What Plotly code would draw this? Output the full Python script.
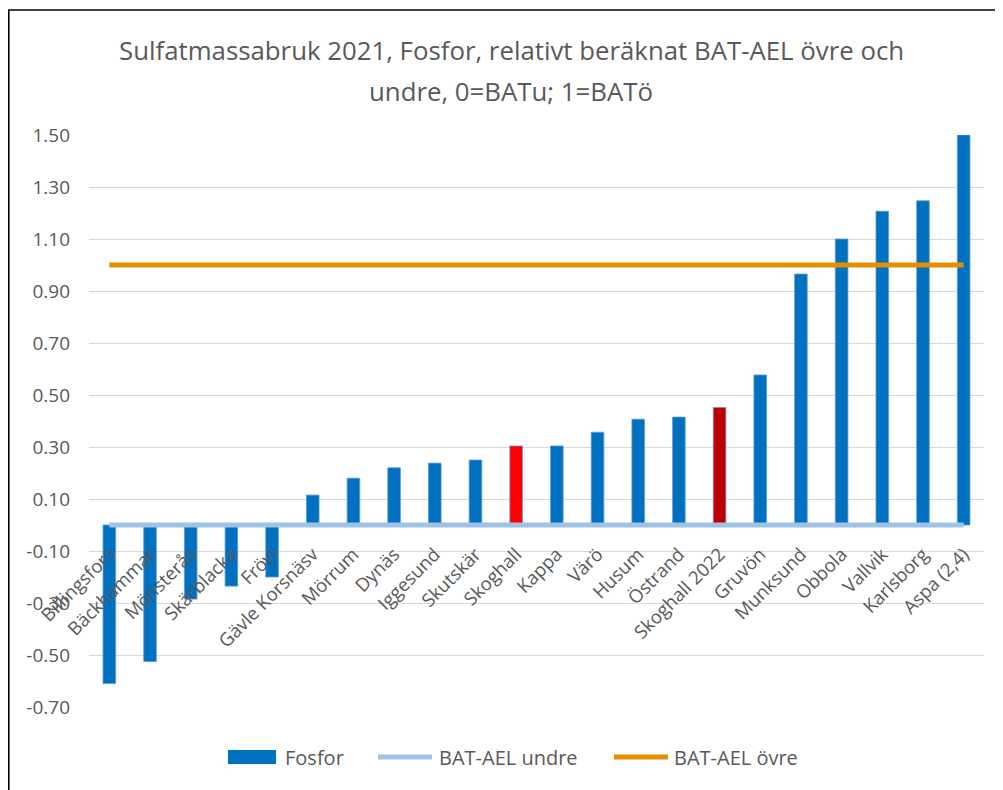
import plotly.graph_objects as go

categories = ["Billingsfors", "Bäckhammar", "Mönsterås", "Skärblacka", "Frövi",
              "Gävle Korsnäsv", "Mörrum", "Dynäs", "Iggesund", "Skutskär",
              "Skoghall", "Kappa", "Värö", "Husum", "Östrand", "Skoghall 2022",
              "Gruvön", "Munksund", "Obbola", "Vallvik", "Karlsborg", "Aspa (2,4)"]
fosfor = [-0.61, -0.525, -0.285, -0.235, -0.20,
          0.115, 0.18, 0.22, 0.238, 0.25,
          0.304, 0.304, 0.357, 0.407, 0.415, 0.452,
          0.577, 0.965, 1.10, 1.207, 1.247, 1.50]
bar_colors = ["#0070C0"] * 10 + ["#FF0000"] + ["#0070C0"] * 4 + ["#C00000"] + ["#0070C0"] * 6
bat_undre = [0.0] * len(categories)
bat_ovre = [1.0] * len(categories)

y_tickvals = [-0.7, -0.5, -0.3, -0.1, 0.1, 0.3, 0.5, 0.7, 0.9, 1.1, 1.3, 1.5]
y_ticktext = ["-0.70", "-0.50", "-0.30", "-0.10", "0.10", "0.30", "0.50", "0.70",
              "0.90", "1.10", "1.30", "1.50"]

title_lines = ["Sulfatmassabruk 2021, Fosfor, relativt beräknat BAT-AEL övre och",
               "undre, 0=BATu; 1=BATö"]
legend_names = ["Fosfor", "BAT-AEL undre", "BAT-AEL övre"]

OFF = 8  # page body margin
W, H = 1003 - OFF, 790 - OFF
# plot area in reference pixels: x 89..984, y 135..707
L = 89 - OFF
T = 135 - OFF
R = W - (984 - OFF)
B = H - (707 - OFF)
ymin, ymax = -0.7, 1.5
FONT = "Open Sans"
GREY = "#595959"

fig = go.Figure()
fig.add_trace(go.Bar(x=categories, y=fosfor, name=legend_names[0],
                     marker=dict(color=bar_colors, line=dict(color="#5B9BD5", width=0.8)),
                     width=0.31, showlegend=False))
fig.add_trace(go.Scatter(x=categories, y=bat_undre, mode="lines", name=legend_names[1],
                         line=dict(color="#9DC3E6", width=5), showlegend=False))
fig.add_trace(go.Scatter(x=categories, y=bat_ovre, mode="lines", name=legend_names[2],
                         line=dict(color="#E48E00", width=5), showlegend=False))

pw = W - L - R
ph = H - T - B
def px(x):  # reference pixel x -> paper
    return (x - OFF - L) / pw
def py(y):  # reference pixel y -> paper
    return (H - B - (y - OFF)) / ph

shapes = [
    dict(type="rect", xref="paper", yref="paper", x0=px(8.8), x1=px(1030), y0=py(10), y1=py(830),
         line=dict(color="black", width=1.6), fillcolor="rgba(0,0,0,0)", layer="below"),
    dict(type="rect", xref="paper", yref="paper", x0=px(228), x1=px(276), y0=py(750), y1=py(764),
         line=dict(width=0), fillcolor="#0070C0"),
    dict(type="line", xref="paper", yref="paper", x0=px(378), x1=px(432), y0=py(757), y1=py(757),
         line=dict(color="#9DC3E6", width=5)),
    dict(type="line", xref="paper", yref="paper", x0=px(614), x1=px(668), y0=py(757), y1=py(757),
         line=dict(color="#E48E00", width=5)),
]
annotations = [
    dict(text=title_lines[0], xref="paper", yref="paper", x=px(511), y=py(50),
         xanchor="center", yanchor="middle", showarrow=False,
         font=dict(family=FONT, size=25.8, color=GREY)),
    dict(text=title_lines[1], xref="paper", yref="paper", x=px(511), y=py(91),
         xanchor="center", yanchor="middle", showarrow=False,
         font=dict(family=FONT, size=25.8, color=GREY)),
]
for name, xs in zip(legend_names, [283, 437, 672]):
    annotations.append(dict(text=name, xref="paper", yref="paper", x=px(xs), y=py(757),
                            xanchor="left", yanchor="middle", showarrow=False,
                            font=dict(family=FONT, size=20, color=GREY)))

fig.update_layout(
    width=W, height=H,
    margin=dict(l=L, r=R, t=T, b=B),
    paper_bgcolor="white", plot_bgcolor="white",
    showlegend=False,
    shapes=shapes, annotations=annotations,
    xaxis=dict(type="category", anchor="free", position=(0 - ymin) / (ymax - ymin),
               showgrid=False, zeroline=False, showline=False,
               tickangle=-45, ticks="", ticklabelstandoff=14,
               tickfont=dict(family=FONT, size=18.5, color=GREY),
               range=[-0.5, len(categories) - 0.5]),
    yaxis=dict(range=[ymin, ymax], tickvals=y_tickvals, ticktext=y_ticktext,
               showgrid=True, gridcolor="#D9D9D9", gridwidth=1.2,
               zeroline=False, showline=False, ticks="", ticklabelstandoff=18,
               tickfont=dict(family=FONT, size=19, color=GREY)),
)

fig.write_html("out.html")
